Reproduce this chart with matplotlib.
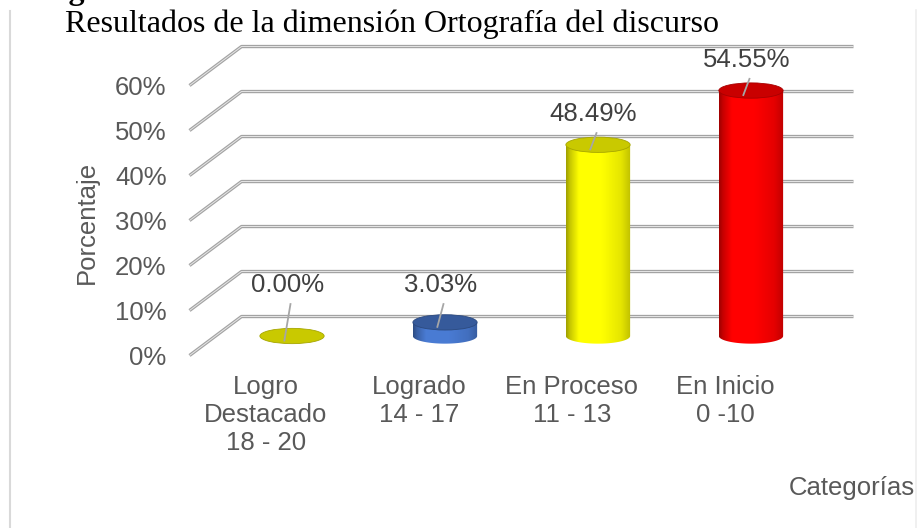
import numpy as np
import matplotlib.pyplot as plt
from matplotlib.patches import Polygon, Ellipse
from matplotlib.lines import Line2D
from matplotlib.colors import to_rgb

# datos
categorias = ['Logro\nDestacado\n18 - 20', 'Logrado\n14 - 17', 'En Proceso\n11 - 13', 'En Inicio\n0 -10']
porcentajes = [0.00, 3.03, 48.49, 54.55]      # etiquetas de datos
alturas = [0.0, 3.03, 42.5, 54.55]            # altura de cada cilindro
colores = ['#ffff00', '#4472c4', '#ffff00', '#ff0000']
ticks = [0, 10, 20, 30, 40, 50, 60]

plt.rcParams['font.family'] = ['Liberation Sans', 'DejaVu Sans']
gris = '#595959'

fig = plt.figure(figsize=(9.17, 5.28), dpi=100)
ax = fig.add_axes([0.1516, 0.2784, 0.8342, 0.6477])
ax.set_axis_off()

# profundidad (pseudo 3D): mitad del desplazamiento entre pared frontal y fondo
dx, dy = 0.17, 4.33
x_izq, x_der = -0.5, 3.5
ancho = 0.42
alto_elipse = 3.4

# lineas de division: diagonal en la pared lateral y horizontal en el fondo
for t in ticks:
    xs = [x_izq - dx, x_izq + dx, x_der + dx]
    ys = [t - dy, t + dy, t + dy]
    ax.plot(xs, ys, color='#a3a3a3', lw=2.4, solid_capstyle='butt', clip_on=False, zorder=1)
    ax.plot(xs, ys, color='#e6e6e6', lw=0.7, solid_capstyle='butt', clip_on=False, zorder=1.1)
    ax.text(x_izq - dx - 0.15, t - dy - 0.6, f'{t}%', ha='right', va='center',
            fontsize=18.5, color=gris)

u = np.linspace(0, 1, 200)
perfil = np.interp(u, [0, 0.06, 0.2, 0.55, 0.85, 1.0], [0.62, 0.78, 1.0, 1.0, 0.9, 0.75])


def cilindro(xc, h, color, z):
    base = np.array(to_rgb(color))
    hw = ancho / 2
    eh = alto_elipse / 2
    if h > 0:
        th = np.linspace(np.pi, 2 * np.pi, 80)
        fondo = np.column_stack([xc + hw * np.cos(th), eh * np.sin(th)])
        verts = np.vstack([[xc - hw, h], fondo, [xc + hw, h]])
        cuerpo = Polygon(verts, closed=True, facecolor='none', edgecolor='none', zorder=z)
        ax.add_patch(cuerpo)
        grad = np.clip(perfil[None, :, None] * base[None, None, :] * (1.08 if color == '#4472c4' else 1.0), 0, 1)
        im = ax.imshow(grad, extent=(xc - hw, xc + hw, -eh, h), aspect='auto',
                       interpolation='bilinear', zorder=z)
        im.set_clip_path(cuerpo)
    tapa = Ellipse((xc, h), 2 * hw, 2 * eh, facecolor=np.clip(base * 0.79, 0, 1),
                   edgecolor=np.clip(base * 0.65, 0, 1), lw=0.6, zorder=z + 0.1)
    ax.add_patch(tapa)


for i, (h, v, c) in enumerate(zip(alturas, porcentajes, colores)):
    cilindro(i, h, c, 3 + i)
    y_lab = max(h + 6.8, 11.3)
    x_lab = i - 0.03
    ax.text(x_lab, y_lab, f'{v:.2f}%', ha='center', va='center', fontsize=18.5,
            color='#404040', zorder=10)
    ax.plot([x_lab + 0.02, i - 0.05], [y_lab - 4.2, h - 1.0], color='#a6a6a6',
            lw=1.3, clip_on=False, zorder=9)
    ax.text(i - dx, -8.6, categorias[i], ha='center', va='top', ma='center',
            fontsize=18.5, color=gris, linespacing=1.22)

ax.set_xlim(-1.0, 4.0)
ax.set_ylim(-10, 66)

# textos del marco
fig.text(87 / 917, 1 - 222 / 528, 'Porcentaje', rotation=90, ha='center', va='center',
         fontsize=18.5, color=gris)
fig.text(915 / 917, 1 - 495 / 528, 'Categorías', ha='right', va='baseline',
         fontsize=18.5, color=gris)
fig.text(65 / 917, 1 - 32 / 528, 'Resultados de la dimensión Ortografía del discurso',
         ha='left', va='baseline', fontsize=23, family='Liberation Serif', color='black')
fig.text(40 / 917, 1.002, 'Figura', ha='left', va='baseline', fontsize=23,
         family='Liberation Serif', weight='bold', color='black')

# bordes del area del grafico
fig.add_artist(Line2D([10 / 917, 10 / 917], [0, 1 - 11 / 528], color='#d9d9d9', lw=1.5))
fig.add_artist(Line2D([915.5 / 917, 915.5 / 917], [0, 1 - 10 / 528], color='#eeeeee', lw=1.2))

plt.savefig('out.png', dpi=100, facecolor='white')
